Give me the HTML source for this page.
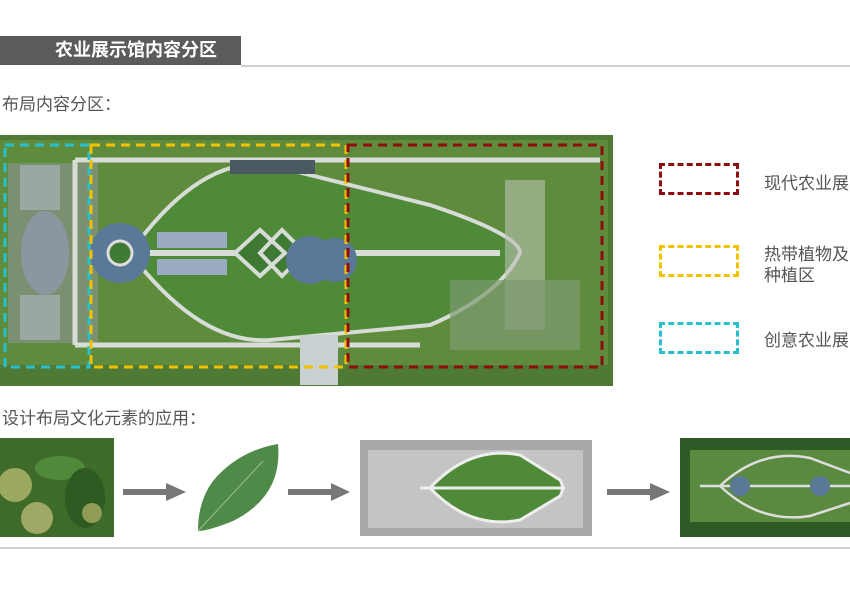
<!DOCTYPE html>
<html><head><meta charset="utf-8"><style>
body{margin:0;width:850px;height:595px;background:#fff;position:relative;overflow:hidden;font-family:"Liberation Sans","Noto Sans CJK SC",sans-serif}
.a{position:absolute}
</style></head><body>
<div class="a" style="left:0;top:36px;width:241px;height:29px;background:#5b5b5b"></div>
<div class="a" style="left:55px;top:38px;color:#fff;font-weight:bold;font-size:18px;line-height:24px">农业展示馆内容分区</div>
<div class="a" style="left:241px;top:65px;width:609px;height:2px;background:#cfcfcf"></div>
<div class="a" style="left:2px;top:90px;color:#555;font-size:17px">布局内容分区：</div>

<svg class="a" style="left:0;top:135px" width="613" height="251" viewBox="0 0 613 251">
<rect width="613" height="251" fill="#4f7a36"/>
<rect x="0" y="5" width="608" height="225" fill="#5f8c3c"/>
<rect x="8" y="28" width="90" height="180" fill="#7a9070"/>
<ellipse cx="45" cy="118" rx="24" ry="42" fill="#8b96a0"/>
<rect x="20" y="30" width="40" height="45" fill="#a8b0b8" opacity=".7"/>
<rect x="20" y="160" width="40" height="45" fill="#a8b0b8" opacity=".7"/>
<path d="M75 25 H600 M75 210 H420 M75 25 V210" stroke="#d8dcd6" stroke-width="5" fill="none"/>
<path d="M130 118 Q200 20 270 30 L430 70 Q520 100 520 118 Q500 160 430 190 L270 205 Q200 210 130 118Z" fill="#4e8a38" stroke="#d8dcd6" stroke-width="4"/>
<path d="M120 118 H500" stroke="#d8dcd6" stroke-width="6"/>
<circle cx="120" cy="118" r="30" fill="#5a7898"/><circle cx="120" cy="118" r="12" fill="#3f7a34" stroke="#ddd" stroke-width="3"/>
<rect x="157" y="97" width="70" height="16" fill="#9aabc0"/><rect x="157" y="124" width="70" height="16" fill="#9aabc0"/>
<path d="M235 118 L260 95 L285 118 L260 141Z M260 118 L282 95 L305 118 L282 141Z" fill="#3f7a34" stroke="#d8dcd6" stroke-width="4"/>
<circle cx="310" cy="125" r="24" fill="#5a7898"/><circle cx="335" cy="125" r="22" fill="#5a7898"/>
<rect x="230" y="25" width="85" height="14" fill="#4a5a60"/>
<rect x="505" y="45" width="40" height="150" fill="#b9c0b0" opacity=".6"/>
<rect x="450" y="145" width="130" height="70" fill="#7d9a70" opacity=".7"/>
<rect x="300" y="200" width="38" height="50" fill="#c8d0d2"/>
<rect x="5" y="10" width="84" height="222" fill="none" stroke="#27c0cc" stroke-width="3" stroke-dasharray="9,6"/>
<rect x="91" y="10" width="255" height="222" fill="none" stroke="#f2c200" stroke-width="3" stroke-dasharray="9,6"/>
<rect x="348" y="10" width="254" height="222" fill="none" stroke="#8f0d0d" stroke-width="3" stroke-dasharray="9,6"/>
</svg>

<div class="a" style="left:659px;top:163px;width:74px;height:26px;border:3px dashed #8f0d0d"></div>
<div class="a" style="left:659px;top:245px;width:74px;height:26px;border:3px dashed #f2c200"></div>
<div class="a" style="left:659px;top:322px;width:74px;height:26px;border:3px dashed #27c0cc"></div>
<div class="a" style="left:764px;top:169px;color:#555;font-size:17px;white-space:nowrap">现代农业展</div>
<div class="a" style="left:764px;top:244px;color:#555;font-size:17px;line-height:21px;white-space:nowrap">热带植物及<br>种植区</div>
<div class="a" style="left:764px;top:326px;color:#555;font-size:17px;white-space:nowrap">创意农业展</div>

<div class="a" style="left:2px;top:404px;color:#555;font-size:17px">设计布局文化元素的应用：</div>
<svg class="a" style="left:0;top:438px" width="114" height="99"><rect width="114" height="99" fill="#3e6a2a"/>
<ellipse cx="60" cy="30" rx="25" ry="12" fill="#4f8a3a"/><ellipse cx="85" cy="60" rx="20" ry="30" fill="#2f5a22"/>
<circle cx="15" cy="47" r="17" fill="#9aa860"/><circle cx="37" cy="80" r="16" fill="#a0a865"/><circle cx="92" cy="75" r="10" fill="#8f9c55"/></svg>
<svg class="a" style="left:193px;top:441px" width="86" height="94"><path d="M85 3 Q90 55 40 80 Q15 90 5 90 Q5 60 20 40 Q45 10 85 3Z" fill="#4f8a48"/><path d="M5 90 L70 20" stroke="#9ac08a"/></svg>
<svg class="a" style="left:360px;top:440px" width="232" height="96"><rect width="232" height="96" fill="#a8a8a8"/>
<rect x="8" y="10" width="215" height="78" fill="#c4c4c4"/>
<path d="M70 48 Q110 5 160 15 L200 40 Q205 48 200 56 L160 80 Q110 90 70 48Z" fill="#4f8a38" stroke="#eee" stroke-width="3"/>
<path d="M60 48 H205" stroke="#eee" stroke-width="3"/></svg>
<svg class="a" style="left:680px;top:438px" width="170" height="99"><rect width="170" height="99" fill="#2f5a25"/>
<rect x="10" y="12" width="160" height="72" fill="#5a8a40"/>
<path d="M40 48 Q80 10 130 20 L170 35 M40 48 Q80 86 130 78 L170 65 M20 48 H170" stroke="#ddd" stroke-width="2.5" fill="none"/>
<circle cx="60" cy="48" r="10" fill="#5a7898"/><circle cx="140" cy="48" r="10" fill="#5a7898"/></svg>
<svg class="a" style="left:0;top:480px" width="680" height="25" fill="#777">
<rect x="123" y="9" width="45" height="6"/><path d="M166 3 L186 12 L166 21Z"/>
<rect x="288" y="9" width="45" height="6"/><path d="M331 3 L350 12 L331 21Z"/>
<rect x="607" y="9" width="45" height="6"/><path d="M650 3 L670 12 L650 21Z"/></svg>
<div class="a" style="left:0;top:547px;width:850px;height:2px;background:#cfcfcf"></div>
</body></html>
